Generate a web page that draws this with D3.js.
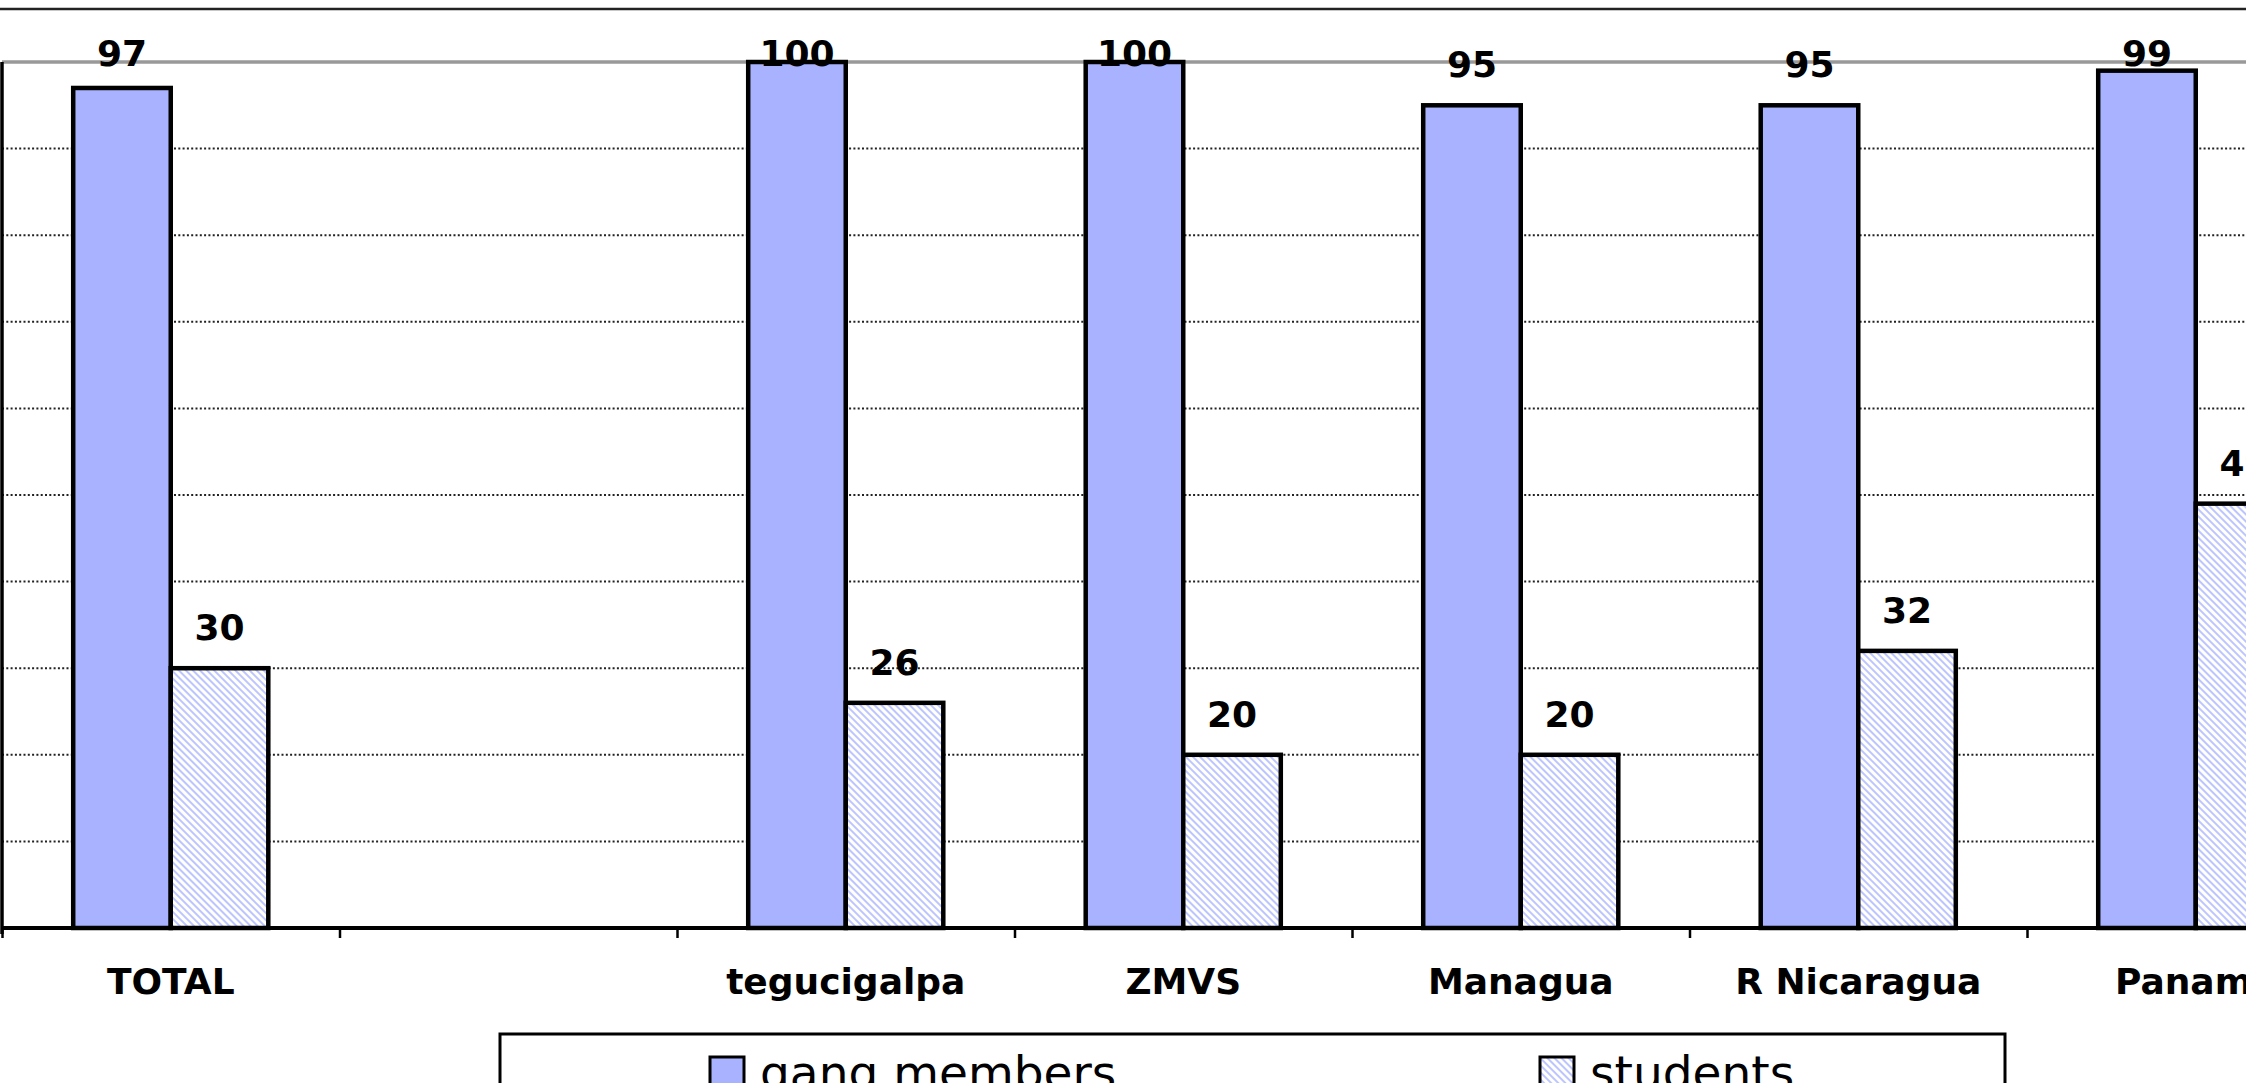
<!DOCTYPE html>
<html>
<head>
<meta charset="utf-8">
<script src="https://cdn.jsdelivr.net/npm/d3@7"></script>
<style>
  body { margin: 0; background: #fff; overflow: hidden; }
  #chart { width: 2246px; height: 1083px; }
</style>
</head>
<body>
<div id="chart"></div>
<script>
// data
var categories = ["TOTAL", "", "tegucigalpa", "ZMVS", "Managua", "R Nicaragua", "Panama"];
var seriesNames = ["gang members", "students"];
var gangMembers = [97, null, 100, 100, 95, 95, 99];
var students = [30, null, 26, 20, 20, 32, 49];
var yTicks = [10, 20, 30, 40, 50, 60, 70, 80, 90];

var W = 2246, H = 1083;
var plot = {left: 2, top: 62, bottom: 928, band: 337.5};

var svg = d3.select("#chart")
  .append("svg")
    .attr("width", W)
    .attr("height", H)
    .style("font-family", "'DejaVu Sans', Verdana, sans-serif");

// hatch for students
var defs = svg.append("defs");
defs.append("pattern")
    .attr("id", "hatch")
    .attr("patternUnits", "userSpaceOnUse")
    .attr("width", 5)
    .attr("height", 5)
    .attr("patternTransform", "rotate(-45)")
  .call(function(p) {
    p.append("rect").attr("width", 5).attr("height", 5).attr("fill", "#fff");
    p.append("line")
      .attr("x1", 1).attr("y1", 0).attr("x2", 1).attr("y2", 5)
      .attr("stroke", "#9aa6ff").attr("stroke-width", 1.3);
  });

var colors = {"gang members": "#a8b2ff", "students": "url(#hatch)"};

var x = d3.scaleBand()
  .domain(d3.range(categories.length))
  .range([plot.left, plot.left + plot.band * categories.length])
  .padding(0);

var x1 = d3.scaleBand()
  .domain(seriesNames)
  .range([0, x.bandwidth()])
  .paddingInner(0)
  .paddingOuter(0.73);

var y = d3.scaleLinear()
  .domain([0, 100])
  .range([plot.bottom, plot.top]);

// chart border at top
svg.append("line")
  .attr("x1", 0).attr("x2", W)
  .attr("y1", 9).attr("y2", 9)
  .attr("stroke", "#222").attr("stroke-width", 2.5);

// gridlines (dotted)
svg.append("g")
  .selectAll("line")
  .data(yTicks)
  .enter()
  .append("line")
    .attr("x1", plot.left).attr("x2", W)
    .attr("y1", function(d) { return y(d); })
    .attr("y2", function(d) { return y(d); })
    .attr("stroke", "#222")
    .attr("stroke-width", 2)
    .attr("stroke-dasharray", "2,2.3");

// top of plot area (grey)
svg.append("line")
  .attr("x1", plot.left).attr("x2", W)
  .attr("y1", y(100)).attr("y2", y(100))
  .attr("stroke", "#999").attr("stroke-width", 3.5);

// bars
var rows = categories.map(function(c, i) {
  return {i: i, values: [
    {key: "gang members", value: gangMembers[i]},
    {key: "students", value: students[i]}
  ]};
});

var groups = svg.append("g")
  .selectAll("g")
  .data(rows)
  .enter()
  .append("g")
    .attr("transform", function(d) { return "translate(" + x(d.i) + ",0)"; });

var bars = groups.selectAll("g")
  .data(function(d) { return d.values.filter(function(v) { return v.value != null; }); })
  .enter()
  .append("g");

bars.append("rect")
    .attr("x", function(d) { return x1(d.key); })
    .attr("y", function(d) { return y(d.value); })
    .attr("width", x1.bandwidth())
    .attr("height", function(d) { return y(0) - y(d.value); })
    .attr("fill", function(d) { return colors[d.key]; })
    .attr("stroke", "#000")
    .attr("stroke-width", 4.5);

// value labels
bars.append("text")
    .attr("x", function(d) { return x1(d.key) + x1.bandwidth() / 2; })
    .attr("y", function(d) { return Math.max(y(d.value) - 28, 66); })
    .attr("text-anchor", "middle")
    .attr("font-size", 36)
    .attr("font-weight", "bold")
    .attr("fill", "#000")
    .text(function(d) { return d.value; });

// y axis line
svg.append("line")
  .attr("x1", plot.left).attr("x2", plot.left)
  .attr("y1", y(100)).attr("y2", y(0) + 6)
  .attr("stroke", "#000").attr("stroke-width", 3.5);

// x axis
var xAxis = d3.scaleLinear()
  .domain([0, categories.length])
  .range(x.range());

var axis = svg.append("g")
  .attr("transform", "translate(0," + y(0) + ")")
  .call(d3.axisBottom(xAxis).ticks(categories.length).tickSize(10).tickFormat(""));
axis.select(".domain").attr("stroke", "#000").attr("stroke-width", 4)
  .attr("d", "M" + plot.left + ",0H" + W);
axis.selectAll(".tick line").attr("stroke", "#000").attr("stroke-width", 2.5);

// category labels
svg.append("g")
  .selectAll("text")
  .data(categories)
  .enter()
  .append("text")
    .attr("x", function(d, i) { return x(i) + x.bandwidth() / 2; })
    .attr("y", 994)
    .attr("text-anchor", "middle")
    .attr("font-size", 36)
    .attr("font-weight", "bold")
    .text(function(d) { return d; });

// legend
var legend = svg.append("g");
legend.append("rect")
  .attr("x", 500).attr("y", 1034)
  .attr("width", 1505).attr("height", 80)
  .attr("fill", "#fff")
  .attr("stroke", "#000").attr("stroke-width", 3);

var legendX = [710, 1540];
seriesNames.forEach(function(s, i) {
  legend.append("rect")
    .attr("x", legendX[i]).attr("y", 1057)
    .attr("width", 34).attr("height", 34)
    .attr("fill", colors[s])
    .attr("stroke", "#000").attr("stroke-width", 3);
  legend.append("text")
    .attr("x", legendX[i] + 50).attr("y", 1089)
    .attr("font-size", 47)
    .text(s);
});
</script>
</body>
</html>
